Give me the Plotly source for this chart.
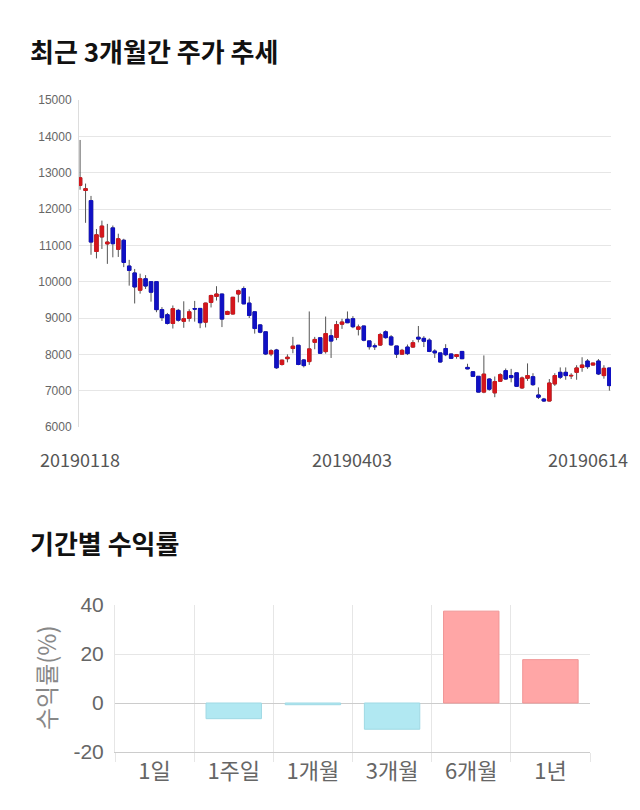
import plotly.graph_objects as go

# ---------------- data ----------------
dates = [
    "20190118", "20190121", "20190122", "20190123", "20190124", "20190125",
    "20190128", "20190129", "20190130", "20190131", "20190201", "20190207",
    "20190208", "20190211", "20190212", "20190213", "20190214", "20190215",
    "20190218", "20190219", "20190220", "20190221", "20190222", "20190225",
    "20190226", "20190227", "20190228", "20190304", "20190305", "20190306",
    "20190307", "20190308", "20190311", "20190312", "20190313", "20190314",
    "20190315", "20190318", "20190319", "20190320", "20190321", "20190322",
    "20190325", "20190326", "20190327", "20190328", "20190329", "20190401",
    "20190402", "20190403", "20190404", "20190405", "20190408", "20190409",
    "20190410", "20190411", "20190412", "20190415", "20190416", "20190417",
    "20190418", "20190419", "20190422", "20190423", "20190424", "20190425",
    "20190426", "20190429", "20190502", "20190503", "20190507", "20190508",
    "20190509", "20190510", "20190513", "20190514", "20190515", "20190516",
    "20190517", "20190520", "20190521", "20190522", "20190523", "20190524",
    "20190527", "20190528", "20190529", "20190530", "20190531", "20190603",
    "20190604", "20190605", "20190607", "20190610", "20190611", "20190612",
    "20190613", "20190614",
]
open_ = [
    12650, 12510, 12230, 10830, 11230, 11040, 11480, 10890, 11140, 10430,
    10240, 9765, 10080, 10000, 10000, 9230, 9090, 8850, 9210, 8910,
    8990, 9260, 9264, 8885, 9430, 9595, 9660, 9100, 9110, 9660,
    9810, 9410, 9170, 8810, 8620, 8010, 8120, 7720, 7880, 8160,
    8250, 7845, 7800, 8330, 8455, 8075, 8510, 8465, 8830, 8965,
    8980, 8690, 8780, 8370, 8235, 8255, 8620, 8480, 8230, 8005,
    8200, 8200, 8470, 8440, 8390, 8090, 8040, 8160, 8010, 7940,
    8080, 7640, 7520, 7395, 6960, 7320, 6940, 7260, 7550, 7415,
    7490, 7075, 7340, 7385, 6880, 6770, 6715, 7185, 7505, 7505,
    7405, 7505, 7640, 7815, 7705, 7815, 7415, 7625,
]
high = [
    13900, 12700, 12360, 11450, 11680, 11590, 11545, 11320, 11180, 10600,
    10350, 10220, 10180, 10000, 10000, 9300, 9140, 9345, 9250, 9460,
    9240, 9470, 9264, 9420, 9640, 9875, 9660, 9200, 9580, 9780,
    9870, 9590, 9170, 8830, 8620, 8140, 8150, 7850, 8000, 8480,
    8250, 7870, 9180, 8480, 8455, 9040, 8690, 8920, 8980, 9180,
    9050, 8820, 8780, 8370, 8300, 8590, 8660, 8530, 8230, 8150,
    8270, 8390, 8780, 8500, 8440, 8140, 8040, 8280, 8020, 8010,
    8090, 7740, 7540, 7400, 7970, 7340, 7390, 7480, 7610, 7600,
    7490, 7390, 7750, 7480, 7090, 6800, 7320, 7480, 7640, 7640,
    7480, 7700, 7920, 7870, 7760, 7870, 7700, 7625,
]
low = [
    12530, 11620, 10740, 10640, 10900, 10490, 10670, 10680, 10400, 9890,
    9400, 9670, 9800, 9450, 9160, 8920, 8820, 8710, 8900, 8730,
    8900, 8900, 8720, 8740, 9290, 9480, 8750, 9090, 9100, 9430,
    9380, 9000, 8570, 8580, 7980, 7950, 7600, 7690, 7780, 8030,
    7700, 7640, 7710, 8140, 8020, 8020, 7900, 8390, 8700, 8860,
    8720, 8520, 8360, 8130, 8120, 8230, 8430, 8240, 7900, 8000,
    7980, 8180, 8330, 8200, 8060, 7900, 7770, 7950, 7870, 7880,
    7870, 7590, 7380, 6950, 6930, 7000, 6820, 7240, 7300, 7230,
    7100, 7050, 7270, 7130, 6770, 6690, 6705, 7130, 7320, 7300,
    7320, 7300, 7520, 7600, 7700, 7430, 7330, 7000,
]
close = [
    12860, 12560, 11090, 11290, 11530, 11090, 11045, 11180, 10530, 10310,
    9855, 10080, 9880, 9710, 9230, 9010, 8850, 9255, 8940, 8980,
    9170, 9245, 8870, 9410, 9620, 9660, 8970, 9180, 9570, 9750,
    9390, 9070, 8710, 8610, 8010, 8100, 7630, 7840, 7920, 8225,
    7720, 7690, 8150, 8410, 8030, 8570, 8365, 8820, 8890, 8870,
    8760, 8755, 8390, 8210, 8210, 8545, 8460, 8260, 8005, 8110,
    8020, 8320, 8420, 8360, 8080, 8040, 7790, 7990, 7890, 7990,
    7880, 7600, 7395, 6960, 7455, 7040, 7250, 7440, 7320, 7360,
    7120, 7350, 7415, 7165, 6820, 6715, 7210, 7415, 7370, 7415,
    7420, 7625, 7705, 7660, 7760, 7460, 7615, 7140,
]
price_ticks = [6000, 7000, 8000, 9000, 10000, 11000, 12000, 13000, 14000, 15000]
date_labels = ["20190118", "20190403", "20190614"]

periods = ["1일", "1주일", "1개월", "3개월", "6개월", "1년"]
returns = [0.0, -6.4, -0.7, -10.7, 37.5, 17.7]
return_ticks = [-20, 0, 20, 40]

# ---------------- styles ----------------
RED = "#d4161c"
BLUE = "#1010c4"
WICK = "#555555"
GRID = "#e6e6e6"
FONT = "Noto Sans CJK KR"

fig = go.Figure()

# wicks (gray) – full range
fig.add_trace(go.Candlestick(
    x=dates, open=open_, high=high, low=low, close=close,
    increasing=dict(line=dict(color=WICK, width=1), fillcolor=RED),
    decreasing=dict(line=dict(color=WICK, width=1), fillcolor=BLUE),
    whiskerwidth=0, xaxis="x", yaxis="y", showlegend=False, hoverinfo="skip",
))
# coloured bodies on top (no wick: high/low = body bounds)
body_hi = [max(o, c) for o, c in zip(open_, close)]
body_lo = [min(o, c) for o, c in zip(open_, close)]
fig.add_trace(go.Candlestick(
    x=dates, open=open_, high=body_hi, low=body_lo, close=close,
    increasing=dict(line=dict(color=RED, width=1), fillcolor=RED),
    decreasing=dict(line=dict(color=BLUE, width=1), fillcolor=BLUE),
    whiskerwidth=0, xaxis="x", yaxis="y", showlegend=False,
))

# returns bars
bar_colors = ["#ffa6a6" if v >= 0 else "#b1e8f2" for v in returns]
bar_lines = ["#f09595" if v >= 0 else "#9fd9e4" for v in returns]
bar_lw = [0 if v == 0 else 1 for v in returns]
fig.add_trace(go.Bar(
    x=periods, y=returns, xaxis="x2", yaxis="y2",
    marker=dict(color=bar_colors, line=dict(color=bar_lines, width=bar_lw)),
    showlegend=False,
))

n = len(dates)
fig.update_layout(
    width=640, height=810, autosize=False,
    margin=dict(l=0, r=0, t=0, b=0, autoexpand=False),
    paper_bgcolor="white", plot_bgcolor="white",
    font=dict(family=FONT, color="#666"),
    boxgap=0.1, bargap=0.3,
    xaxis=dict(
        domain=[79 / 640, 611 / 640], type="category", automargin=False,
        range=[-0.2, n - 1 + 0.3], showgrid=False, showticklabels=False,
        rangeslider=dict(visible=False), fixedrange=True, anchor="y",
    ),
    yaxis=dict(
        domain=[1 - 427 / 810, 1 - 100 / 810], range=[6000, 15000],
        automargin=False,
        tickvals=price_ticks, ticktext=[str(v) for v in price_ticks],
        tickfont=dict(size=12, color="#666", family="Liberation Sans"),
        gridcolor=GRID, showline=True, linecolor="#dddddd", zeroline=False,
        anchor="x", ticks="", ticklabelstandoff=4,
    ),
    xaxis2=dict(
        domain=[115 / 640, 590 / 640], type="category", anchor="y2",
        automargin=False,
        tickson="boundaries", showgrid=True, gridcolor=GRID,
        ticks="outside", ticklen=9, tickcolor=GRID,
        tickfont=dict(size=22, color="#666"),
        showline=True, linecolor="#cccccc",
    ),
    yaxis2=dict(
        domain=[1 - 752 / 810, 1 - 605 / 810], range=[-20, 40],
        automargin=False,
        tickvals=return_ticks, ticktext=[str(v) for v in return_ticks],
        anchor="x2",
        tickfont=dict(size=21, color="#666", family="Liberation Sans"),
        gridcolor=GRID, zeroline=True, zerolinecolor="#cccccc", zerolinewidth=1,
        showline=True, linecolor=GRID, ticks="", ticklabelstandoff=6,
    ),
)

annotations = [
    dict(text="<b>최근 3개월간 주가 추세</b>", x=28 / 640, y=1 - 50 / 810,
         xref="paper", yref="paper", xanchor="left", yanchor="middle",
         showarrow=False, font=dict(size=26, color="#111", family=FONT)),
    dict(text="<b>기간별 수익률</b>", x=28 / 640, y=1 - 542 / 810,
         xref="paper", yref="paper", xanchor="left", yanchor="middle",
         showarrow=False, font=dict(size=26, color="#111", family=FONT)),
    dict(text="수익률(%)", x=45 / 640, y=1 - 678 / 810, textangle=-90,
         xref="paper", yref="paper", xanchor="center", yanchor="middle",
         showarrow=False, font=dict(size=24, color="#888", family=FONT)),
]
# date labels under candle chart (positioned on their category index)
anchors = [("center", 0), ("center", 5), ("right", 21)]
for lab, (xa, xs) in zip(date_labels, anchors):
    annotations.append(dict(
        text=lab, x=dates.index(lab), y=1 - 459 / 810, xref="x", yref="paper",
        xanchor=xa, yanchor="middle", xshift=xs, showarrow=False,
        font=dict(size=18, color="#555", family=FONT)))
fig.update_layout(annotations=annotations)

fig.write_html("out.html")
